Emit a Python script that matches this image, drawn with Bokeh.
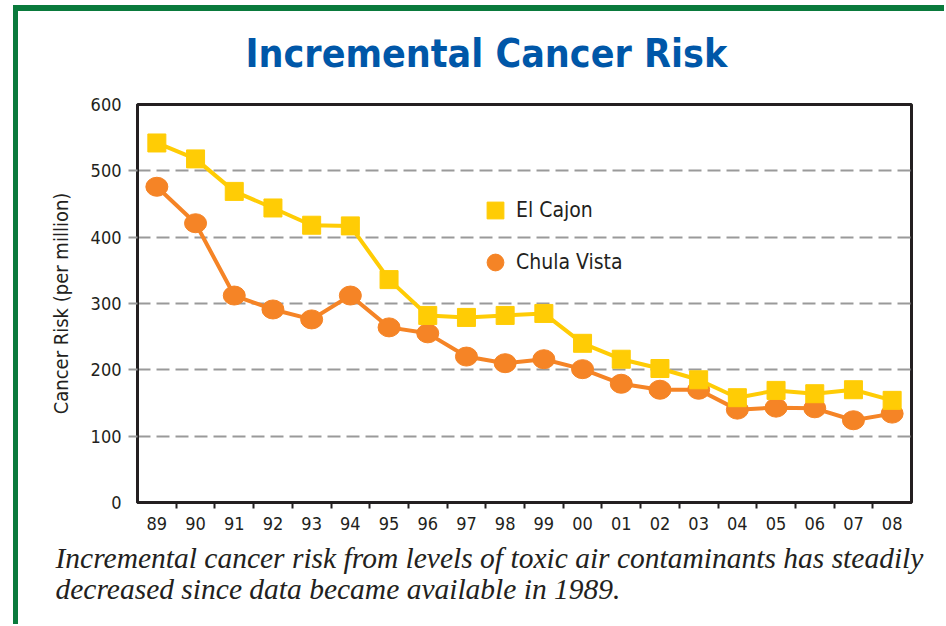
from bokeh.plotting import figure
from bokeh.models import (FixedTicker, Legend, LegendItem, Range1d, Title)
from bokeh.embed import file_html
from bokeh.resources import INLINE

years = ["89", "90", "91", "92", "93", "94", "95", "96", "97", "98",
         "99", "00", "01", "02", "03", "04", "05", "06", "07", "08"]
el_cajon = [542, 518, 469, 444, 418, 417, 336, 282, 279, 282,
            285, 240, 216, 202, 185, 158, 169, 164, 170, 154]
chula_vista = [476, 421, 312, 291, 276, 312, 264, 255, 220, 210,
               216, 201, 179, 170, 170, 140, 143, 142, 124, 134]
y_ticks = [0, 100, 200, 300, 400, 500, 600]

title_text = "Incremental Cancer Risk"
y_title = "Cancer Risk (per million)"
caption_1 = "Incremental cancer risk from levels of toxic air contaminants has steadily"
caption_2 = "decreased since data became available in 1989."

NARROW = "DejaVu Sans Condensed"
YELLOW = "#FFCC05"
ORANGE = "#F58426"
TEXT = "#231F20"
GREEN = "#0A7A3C"

xs = list(range(len(years)))

p = figure(width=944, height=624, output_backend="svg", toolbar_location=None,
           x_range=Range1d(-0.5, len(years) - 0.5), y_range=Range1d(0, 600),
           min_border_left=137, min_border_right=33, min_border_top=104,
           min_border_bottom=122)
# green frame along the top and left edges of the page panel
p.styles = {"box-shadow": f"inset 13px 5px 0 0 white, inset 18px 11px 0 0 {GREEN}",
            "background-color": "white"}
p.background_fill_color = "white"
p.border_fill_alpha = 0
p.outline_line_color = TEXT
p.outline_line_width = 3

# x axis
p.xaxis.ticker = FixedTicker(ticks=xs, minor_ticks=[i + 0.5 for i in xs[:-1]])
p.xaxis.major_label_overrides = {i: y for i, y in zip(xs, years)}
p.xaxis.major_tick_out = 0
p.xaxis.major_tick_in = 0
p.xaxis.minor_tick_out = 6
p.xaxis.minor_tick_in = 0
p.xaxis.minor_tick_line_color = TEXT
p.xaxis.minor_tick_line_width = 2
p.xaxis.axis_line_color = TEXT
p.xaxis.axis_line_width = 3
p.xaxis.major_label_standoff = 8
p.xaxis.major_label_text_font = NARROW
p.xaxis.major_label_text_font_size = "18px"
p.xaxis.major_label_text_color = TEXT

# y axis
p.yaxis.ticker = FixedTicker(ticks=y_ticks, minor_ticks=y_ticks[1:-1])
p.yaxis.major_tick_out = 0
p.yaxis.major_tick_in = 0
p.yaxis.minor_tick_out = 9
p.yaxis.minor_tick_in = 0
p.yaxis.minor_tick_line_color = "#9A9A9A"
p.yaxis.minor_tick_line_width = 2
p.yaxis.axis_line_color = TEXT
p.yaxis.axis_line_width = 3
p.yaxis.major_label_standoff = 7
p.yaxis.major_label_text_font = NARROW
p.yaxis.major_label_text_font_size = "18px"
p.yaxis.major_label_text_color = TEXT
p.yaxis.axis_label = y_title
p.yaxis.axis_label_text_font = NARROW
p.yaxis.axis_label_text_font_style = "normal"
p.yaxis.axis_label_text_font_size = "20px"
p.yaxis.axis_label_text_color = TEXT
p.yaxis.axis_label_standoff = 15

p.xgrid.grid_line_color = None
p.ygrid.ticker = FixedTicker(ticks=y_ticks[1:-1])
p.ygrid.grid_line_color = "#9A9A9A"
p.ygrid.grid_line_width = 2
p.ygrid.grid_line_dash = "13 6"

# series
p.line(xs, chula_vista, line_color=ORANGE, line_width=4)
cv = p.scatter(xs, chula_vista, marker="circle", size=17, fill_color=ORANGE,
               line_color=ORANGE)
p.ellipse(xs, chula_vista, width=22, height=19, width_units="screen",
          height_units="screen", fill_color=ORANGE, line_color=ORANGE)
p.line(xs, el_cajon, line_color=YELLOW, line_width=4)
ec = p.scatter(xs, el_cajon, marker="square", size=18, fill_color=YELLOW,
               line_color=YELLOW)

legend = Legend(items=[LegendItem(label="El Cajon", renderers=[ec]),
                       LegendItem(label="Chula Vista", renderers=[cv])],
                location=(337, 219), orientation="vertical",
                border_line_alpha=0, background_fill_alpha=0,
                padding=0, margin=0, spacing=10, label_standoff=0,
                glyph_width=42, glyph_height=42,
                label_text_font=NARROW, label_text_font_size="21px",
                label_text_color=TEXT, label_text_baseline="middle")
p.add_layout(legend, "center")

p.add_layout(Title(text=title_text, align="left", offset=108, text_font=NARROW,
                   text_font_style="bold", text_font_size="39px",
                   text_color="#0057A8", standoff=57), "above")

p.add_layout(Title(text=caption_1, align="left", offset=-82,
                   text_font="Liberation Serif", text_font_style="italic",
                   text_font_size="29.5px", text_color=TEXT, standoff=15), "below")
p.add_layout(Title(text=caption_2, align="left", offset=-82,
                   text_font="Liberation Serif", text_font_style="italic",
                   text_font_size="29.5px", text_color=TEXT, standoff=-21), "below")

open("out.html", "w").write(file_html(p, INLINE))
